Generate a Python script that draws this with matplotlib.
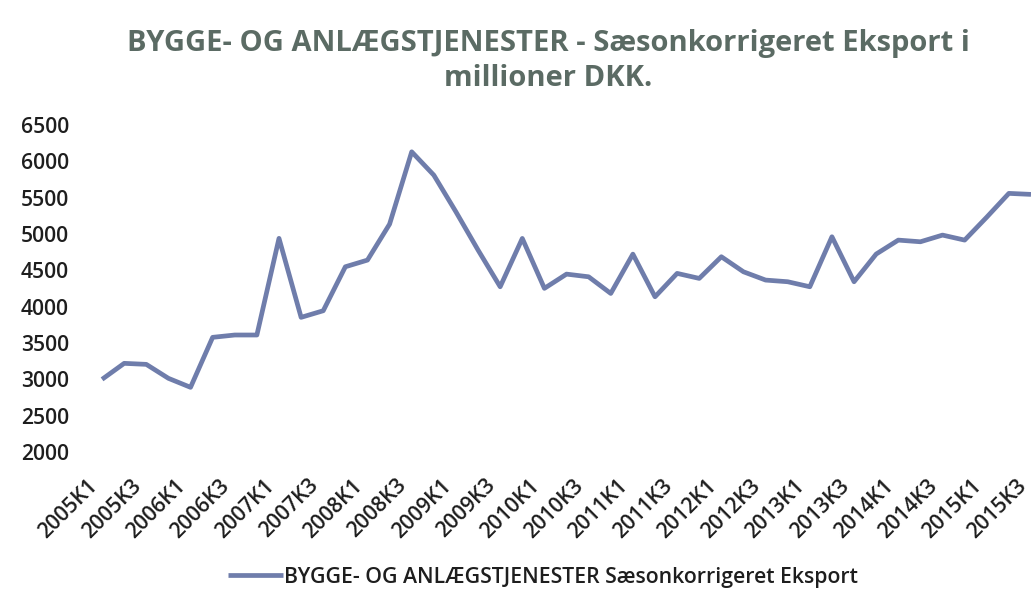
import matplotlib
matplotlib.use("Agg")
import matplotlib.pyplot as plt
from matplotlib.ticker import FixedLocator
from matplotlib.transforms import ScaledTranslation

# ---- data ----
years = list(range(2005, 2016))
quarters = [f"{y}K{q}" for y in years for q in range(1, 5)][:43]  # 2005K1 .. 2015K3
values = [
    3000, 3220, 3206, 3014,
    2890, 3578, 3610, 3610,
    4940, 3853, 3944, 4549,
    4641, 5136, 6131, 5810,
    5305, 4779, 4274, 4939,
    4252, 4448, 4411, 4182,
    4723, 4136, 4458, 4389,
    4687, 4480, 4366, 4343,
    4274, 4962, 4343, 4724,
    4916, 4893, 4985, 4916,
    5232, 5559, 5545,
]
y_ticks = [2000, 2500, 3000, 3500, 4000, 4500, 5000, 5500, 6000, 6500]
series_name = "BYGGE- OG ANLÆGSTJENESTER Sæsonkorrigeret Eksport"
title = "BYGGE- OG ANLÆGSTJENESTER - Sæsonkorrigeret Eksport i\nmillioner DKK."

FONT = ["Open Sans", "DejaVu Sans"]
plt.rcParams["font.family"] = FONT

fig = plt.figure(figsize=(10.31, 5.96), dpi=100)
ax = fig.add_axes([91 / 1031, 1 - 452 / 596, 1 - 91 / 1031, (452 - 125) / 596])

x = list(range(len(values)))
ax.plot(x, values, color="#6f7dab", linewidth=3.4, solid_capstyle="butt",
        label=series_name, clip_on=True)

ax.set_xlim(-0.5, 42.0)
ax.set_ylim(2000, 6500)
ax.set_yticks(y_ticks)
ax.set_yticklabels([str(v) for v in y_ticks])
tick_pos = x[::2]
ax.xaxis.set_major_locator(FixedLocator(tick_pos))
ax.set_xticklabels([quarters[i] for i in tick_pos], rotation=45,
                   ha="right", va="center", rotation_mode="anchor")

for s in ax.spines.values():
    s.set_visible(False)
ax.tick_params(axis="both", length=0, colors="#1e1e1e", labelsize=15.2)
ax.tick_params(axis="y", pad=16)
ax.tick_params(axis="x", pad=22)
shift = ScaledTranslation(-8 / 100, 0, fig.dpi_scale_trans)
for lbl in ax.get_xticklabels():
    lbl.set_fontweight("semibold")
    lbl.set_transform(lbl.get_transform() + shift)
for lbl in ax.get_yticklabels():
    lbl.set_fontweight("semibold")

fig.text(548 / 1031, 1 - 61 / 596, title, ha="center", va="center",
         fontsize=21, fontweight="bold", color="#5b6b64", linespacing=1.3)

fig.legend(loc="center", bbox_to_anchor=(543 / 1031, 1 - 577 / 596),
           frameon=False, handlelength=2.6, handletextpad=0.05,
           prop={"weight": "semibold", "size": 15.3})
for t in fig.legends[0].get_texts():
    t.set_color("#1e1e1e")

fig.savefig("out.png", dpi=100)
